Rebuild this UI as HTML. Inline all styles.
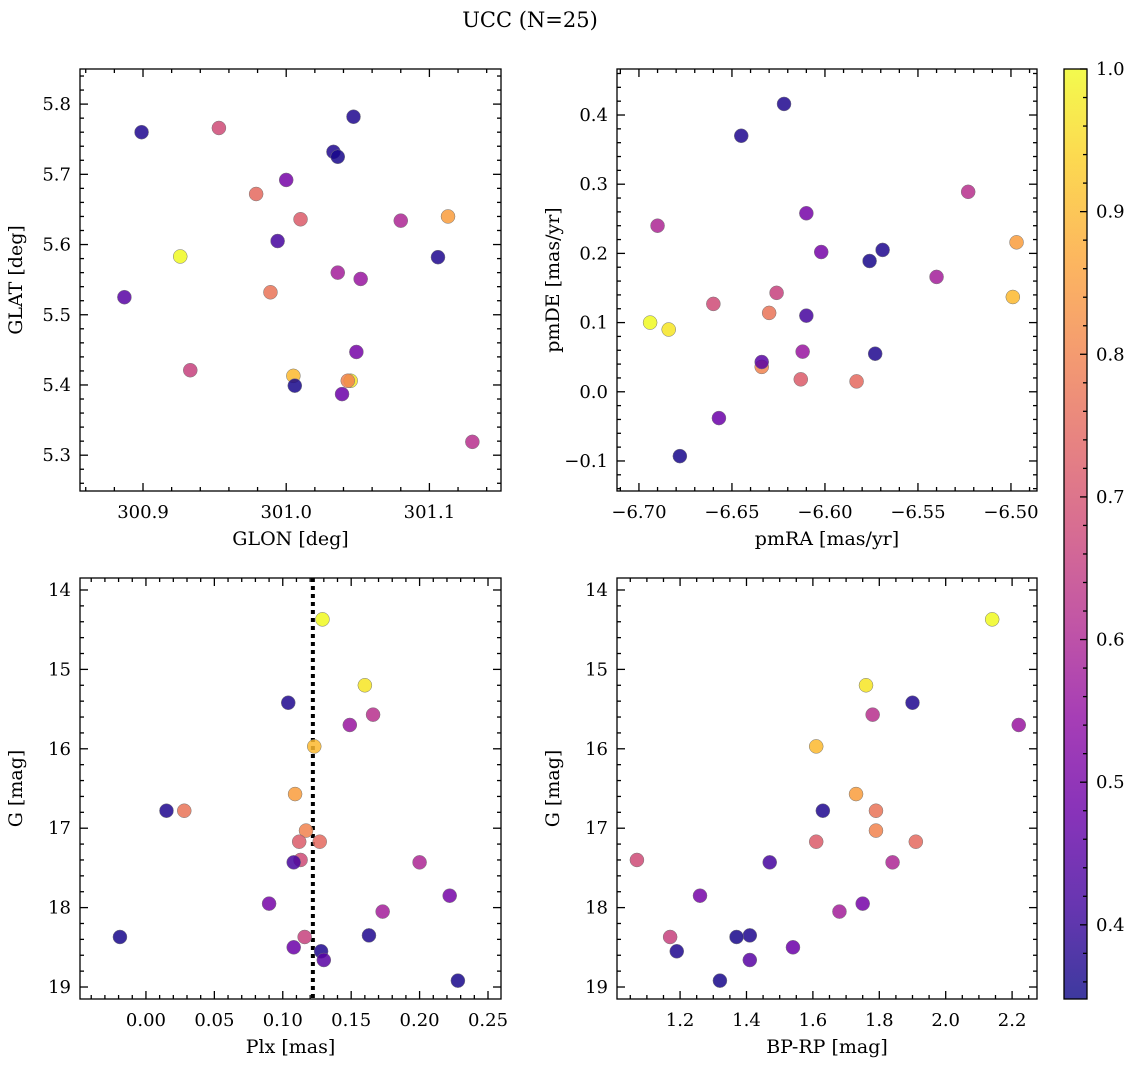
<!DOCTYPE html>
<html><head><meta charset="utf-8">
<style>
html,body{margin:0;padding:0;background:#fff;}
svg{display:block;font-family:"DejaVu Serif","Liberation Serif",serif;}
</style></head>
<body>
<svg id="fig" width="1136" height="1068" viewBox="0 0 1136 1068" xmlns="http://www.w3.org/2000/svg">
<text x="530" y="27" font-size="21" text-anchor="middle">UCC (N=25)</text>
<defs>
<linearGradient id="plasma" x1="0" y1="1" x2="0" y2="0">
<stop offset="0" stop-color="#0d0887"/><stop offset="0.1" stop-color="#41049d"/><stop offset="0.2" stop-color="#6a00a8"/><stop offset="0.3" stop-color="#8f0da4"/><stop offset="0.4" stop-color="#b12a90"/><stop offset="0.5" stop-color="#cc4778"/><stop offset="0.6" stop-color="#e16462"/><stop offset="0.7" stop-color="#f2844b"/><stop offset="0.8" stop-color="#fca636"/><stop offset="0.9" stop-color="#fcce25"/><stop offset="1" stop-color="#f0f921"/>
</linearGradient>
</defs>
</svg>
<script>
// data (index order consistent across arrays)
const glon=[300.926,301.045,300.899,301.130,301.052,301.005,301.113,301.047,300.989,301.043,300.979,301.010,300.953,300.994,301.080,301.000,301.049,301.036,301.033,301.036,300.933,301.039,301.106,300.887,301.006];
const glat=[5.583,5.406,5.760,5.319,5.551,5.413,5.640,5.782,5.532,5.406,5.672,5.636,5.766,5.605,5.634,5.692,5.447,5.560,5.732,5.725,5.421,5.387,5.582,5.525,5.399];
const pmra=[-6.694,-6.684,-6.622,-6.523,-6.612,-6.499,-6.497,-6.645,-6.630,-6.634,-6.583,-6.613,-6.660,-6.610,-6.690,-6.602,-6.610,-6.540,-6.569,-6.576,-6.626,-6.657,-6.573,-6.634,-6.678];
const pmde=[0.100,0.090,0.416,0.289,0.058,0.137,0.216,0.370,0.114,0.036,0.015,0.018,0.127,0.110,0.240,0.202,0.258,0.166,0.205,0.189,0.143,-0.038,0.055,0.043,-0.093];
const plx=[0.129,0.160,0.104,0.166,0.149,0.123,0.109,0.015,0.028,0.117,0.127,0.112,0.113,0.108,0.200,0.222,0.090,0.173,0.163,-0.019,0.116,0.108,0.128,0.130,0.228];
const gmag=[14.37,15.20,15.42,15.57,15.70,15.97,16.57,16.78,16.78,17.03,17.17,17.17,17.40,17.43,17.43,17.85,17.95,18.05,18.35,18.37,18.37,18.50,18.55,18.66,18.92];
const bprp=[2.14,1.76,1.90,1.78,2.22,1.61,1.73,1.63,1.79,1.79,1.91,1.61,1.07,1.47,1.84,1.26,1.75,1.68,1.41,1.37,1.17,1.54,1.19,1.41,1.32];
const prob=[1.0,0.97,0.37,0.62,0.56,0.90,0.85,0.37,0.77,0.80,0.75,0.72,0.68,0.42,0.60,0.50,0.50,0.58,0.37,0.36,0.66,0.48,0.37,0.45,0.36];
const plxMedian=0.122;
const cbTicks=[0.4,0.5,0.6,0.7,0.8,0.9,1.0];

const NS='http://www.w3.org/2000/svg';
const svg=document.getElementById('fig');
const TFS=18, LFS=19;
function mk(tag,attrs,parent){const e=document.createElementNS(NS,tag);for(const k in attrs)e.setAttribute(k,attrs[k]);(parent||svg).appendChild(e);return e;}
const stops=[[0,'#0d0887'],[0.1,'#41049d'],[0.2,'#6a00a8'],[0.3,'#8f0da4'],[0.4,'#b12a90'],[0.5,'#cc4778'],[0.6,'#e16462'],[0.7,'#f2844b'],[0.8,'#fca636'],[0.9,'#fcce25'],[1,'#f0f921']];
function hex(h){return [1,3,5].map(i=>parseInt(h.substr(i,2),16));}
function cmap(v){const vmin=0.348,vmax=1.0;let t=Math.max(0,Math.min(1,(v-vmin)/(vmax-vmin)));
 for(let i=0;i<stops.length-1;i++){if(t<=stops[i+1][0]){const a=hex(stops[i][1]),b=hex(stops[i+1][1]);const f=(t-stops[i][0])/(stops[i+1][0]-stops[i][0]);return 'rgb('+a.map((c,j)=>Math.round(c+(b[j]-c)*f)).join(',')+')';}}
 return stops[stops.length-1][1];}
function fmt(v,d){const s=Math.abs(v).toFixed(d);return (v<-1e-9?'\u2212':'')+s;}

function panel(o){
 const g=mk('g',{});
 
 
 const X=v=>o.x0+(v-o.xmin)/(o.xmax-o.xmin)*(o.x1-o.x0);
 const Y=o.yinv? (v=>o.y0+(v-o.ymin)/(o.ymax-o.ymin)*(o.y1-o.y0)) : (v=>o.y1-(v-o.ymin)/(o.ymax-o.ymin)*(o.y1-o.y0));
 function ticks(min,max,step,nd){const a=[];const s=step/nd;let k=Math.ceil(min/s-1e-9);for(;k*s<=max+1e-9;k++){const v=k*s;const major=Math.abs(Math.round(v/step)*step-v)<s*0.01;a.push([v,major]);}return a;}
 ticks(o.xmin,o.xmax,o.xstep,o.xnd).forEach(([v,maj])=>{const x=X(v),L=maj?8:4;
  mk('line',{x1:x,x2:x,y1:o.y1,y2:o.y1-L,stroke:'#000','stroke-width':1.3},g);
  mk('line',{x1:x,x2:x,y1:o.y0,y2:o.y0+L,stroke:'#000','stroke-width':1.3},g);
  if(maj){const t=mk('text',{x:x,y:o.y1+27,'font-size':TFS,'text-anchor':'middle'},g);t.textContent=fmt(v,o.xd);
   
   }
 });
 ticks(Math.min(o.ymin,o.ymax),Math.max(o.ymin,o.ymax),o.ystep,o.ynd).forEach(([v,maj])=>{const y=Y(v),L=maj?8:4;
  mk('line',{x1:o.x0,x2:o.x0+L,y1:y,y2:y,stroke:'#000','stroke-width':1.3},g);
  mk('line',{x1:o.x1,x2:o.x1-L,y1:y,y2:y,stroke:'#000','stroke-width':1.3},g);
  if(maj){const t=mk('text',{x:o.x0-9,y:y+6,'font-size':TFS,'text-anchor':'end'},g);t.textContent=fmt(v,o.yd);
   
   }
 });
 if(o.extra)o.extra(g,X,Y);
 o.xs.forEach((xv,i)=>{const c=mk('circle',{cx:X(xv),cy:Y(o.ys[i]),r:7,fill:cmap(prob[i]),'fill-opacity':0.85,stroke:'#777','stroke-width':0.5},g);
  
  });
 mk('rect',{x:o.x0,y:o.y0,width:o.x1-o.x0,height:o.y1-o.y0,fill:'none',stroke:'#000','stroke-width':1.3},g);
 const xl=mk('text',{x:(o.x0+o.x1)/2,y:o.y1+54,'font-size':LFS,'text-anchor':'middle'},g);xl.textContent=o.xlab;
 
 
 const yx=o.x0-58,yc=(o.y0+o.y1)/2;
 const yl=mk('text',{x:yx,y:yc,'font-size':LFS,'text-anchor':'middle',transform:'rotate(-90 '+yx+' '+yc+')'},g);yl.textContent=o.ylab;
 
 
}
panel({name:'glon-glat-panel',x0:80,x1:501,y0:69,y1:491,xmin:300.856,xmax:301.150,ymin:5.249,ymax:5.850,xstep:0.1,xnd:5,ystep:0.1,ynd:5,xd:1,yd:1,xs:glon,ys:glat,xlab:'GLON [deg]',ylab:'GLAT [deg]'});
panel({name:'pm-panel',x0:617,x1:1037,y0:69,y1:491,xmin:-6.7118,xmax:-6.486,ymin:-0.1434,ymax:0.4665,xstep:0.05,xnd:5,ystep:0.1,ynd:5,xd:2,yd:1,xs:pmra,ys:pmde,xlab:'pmRA [mas/yr]',ylab:'pmDE [mas/yr]'});
panel({name:'plx-g-panel',x0:80,x1:501,y0:578,y1:999,xmin:-0.0482,xmax:0.2595,ymin:13.849,ymax:19.151,yinv:true,xstep:0.05,xnd:5,ystep:1,ynd:5,xd:2,yd:0,xs:plx,ys:gmag,xlab:'Plx [mas]',ylab:'G [mag]',
 extra:(g,X,Y)=>{const l=mk('line',{x1:X(plxMedian),x2:X(plxMedian),y1:578,y2:999,stroke:'#000','stroke-width':4,'stroke-dasharray':'4 4'},g);
  
  }});
panel({name:'cmd-panel',x0:617,x1:1037,y0:578,y1:999,xmin:1.010,xmax:2.275,ymin:13.849,ymax:19.151,yinv:true,xstep:0.2,xnd:4,ystep:1,ynd:5,xd:1,yd:0,xs:bprp,ys:gmag,xlab:'BP-RP [mag]',ylab:'G [mag]'});

const cb=mk('g',{});


const cbx0=1064,cbx1=1087,cby0=69,cby1=999,cmin=0.348,cmax=1.0;
const CY=v=>cby1-(v-cmin)/(cmax-cmin)*(cby1-cby0);
mk('rect',{x:cbx0,y:cby0,width:cbx1-cbx0,height:cby1-cby0,fill:'url(#plasma)','fill-opacity':0.8},cb);
for(let k=Math.ceil(cmin/0.02);k*0.02<=cmax+1e-9;k++){const v=k*0.02,maj=k%5===0,y=CY(v);
 mk('line',{x1:cbx1,x2:cbx1-(maj?7:4),y1:y,y2:y,stroke:'#000','stroke-width':1.3},cb);}
cbTicks.forEach(v=>{const t=mk('text',{x:cbx1+9,y:CY(v)+6,'font-size':TFS},cb);t.textContent=v.toFixed(1);
 
 });
mk('rect',{x:cbx0,y:cby0,width:cbx1-cbx0,height:cby1-cby0,fill:'none',stroke:'#000','stroke-width':1.3},cb);
</script>
</body></html>
